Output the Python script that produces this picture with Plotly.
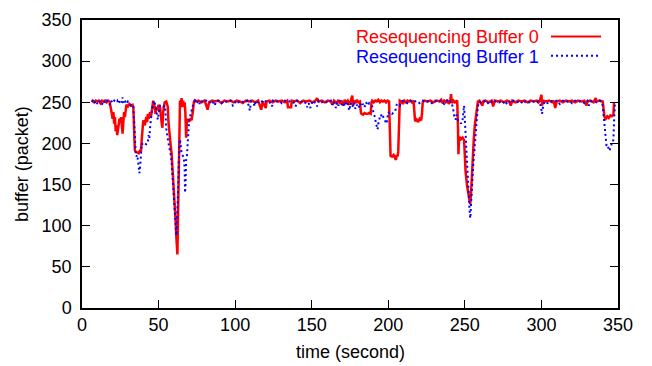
import plotly.graph_objects as go

# ---------------- data ----------------
# Resequencing Buffer 0 (red, solid)
red_t = [
    6.5, 7, 8, 9, 10, 11, 12, 13, 14, 15, 16, 17, 18,
    19, 19.5, 20, 20.5, 21, 21.5, 22, 22.5, 23, 23.5, 24, 24.5, 25, 25.5, 26, 26.5, 27, 27.5, 28, 28.5, 29, 30, 31, 32, 33, 33.5,
    34, 34.5, 35, 36, 37, 38, 38.5, 39, 39.5, 40, 41, 42, 42.5, 43, 43.5, 44, 44.5, 45, 45.5,
    46, 46.5, 47, 47.5, 48, 48.5, 49, 50, 50.5, 51, 52, 52.5, 53, 54, 55, 55.5,
    56, 56.5, 57, 57.5, 58, 58.5, 59, 59.5, 60, 60.5, 61, 61.5, 62, 62.3, 62.7, 63, 63.3, 63.7,
    64, 64.5, 65, 65.5, 66, 66.5, 67, 67.5, 68, 68.5, 69, 69.5, 70, 70.5, 71, 71.5, 72, 72.5, 73, 73.5,
    74, 76, 78, 80, 81, 82, 83, 85, 87, 89,
    91, 93, 95, 97, 99, 101, 103, 105, 107, 109,
    111, 113, 115, 116, 117, 118, 119.5, 120, 120.5, 122.5,
    124.5, 126.5, 128.5, 130.5, 132.5, 134, 134.5, 136.5, 137, 138.5,
    140.5, 142.5, 144.5, 146.5, 148.5, 150.5, 152.5, 153.5, 154.5, 156.5,
    158.5, 160.5, 162.5, 163.5, 164.5, 166.5, 167.5, 168.5, 169.5, 170.5,
    171.5, 172.5, 173.5, 174.5, 175.5, 176.5, 177, 177.5, 178.5, 179.5,
    180.5, 181.5,
    182.1, 182.5, 183.5, 184.5, 185.5, 186.5, 187.5, 188.5, 189, 189.5,
    190.5, 191.5, 192.5, 193.5, 194.5, 195.5, 196.5, 197.5, 198.5, 199.5,
    200.5, 201, 201.5, 202.5, 203.5, 204.5, 205, 205.5, 206, 206.5,
    207, 207.5, 208.5, 209.5, 210.5, 211.5, 212.5, 213.5, 214.5, 215.5,
    216.5, 217, 217.5, 218.5, 219.5, 220.5, 221.5, 222, 222.5, 223.5,
    225.5, 227.5, 229.5, 231.5, 233.5, 234.5, 235.5, 236.5, 237.5, 238.5,
    239.5, 240.5, 241, 241.5, 242.5, 243.5, 245, 245.5, 245.8, 246.2,
    246.5, 247.5, 248.5, 249.5, 250, 250.5, 251.5, 252, 252.5, 253,
    253.5, 254, 254.5, 255.1, 255.8, 256.5, 257.3, 258, 258.5,
    259.5, 261.5, 262, 263.5, 265.5, 267.5, 268.5, 269.5, 271.5, 273.5,
    275.5, 277.5, 279, 280, 281, 283, 285, 287, 289, 291,
    293, 295, 297, 298, 299, 300, 300.5, 301, 303, 305,
    307, 308, 309, 310, 312, 314, 316, 318, 320, 322,
    324, 326, 328, 329.5, 330, 332, 334, 335.4, 336, 338,
    340, 340.8, 341.2, 342, 343, 344, 345, 346, 347, 347.4,
]
red_v = [
    251, 252, 250, 252, 251, 252, 249, 252, 251, 252, 250, 252, 251,
    243, 236, 230, 238, 224, 232, 215, 222, 210, 218, 223, 230, 226, 232, 222, 212, 226, 238, 232, 244, 247, 245, 248, 246, 247, 244,
    200, 192, 190, 189, 188, 192, 190, 205, 215, 228, 222, 232, 226, 236, 230, 235, 238, 232, 240,
    250, 252, 242, 246, 236, 244, 240, 247, 238, 244, 225, 219, 238, 250, 251, 248,
    245, 225, 212, 204, 196, 188, 175, 160, 148, 135, 110, 90, 70, 65, 110, 160, 215, 252,
    252, 246, 255, 244, 252, 246, 250, 238, 207, 228, 230, 226, 229, 227, 231, 228, 233, 240, 250, 252,
    251, 252, 250, 252, 247, 241, 250, 252, 251, 252,
    249, 252, 251, 252, 250, 252, 251, 249, 252, 251,
    252, 250, 252, 246, 241, 251, 245, 243, 251, 252,
    250, 252, 251, 252, 250, 252, 244, 244, 252, 251,
    252, 249, 252, 251, 252, 250, 252, 255, 251, 252,
    250, 252, 251, 247, 252, 249, 253, 248, 252, 246,
    253, 250, 252, 247, 252, 258, 246, 252, 249, 253,
    250, 251,
    238, 236, 235, 237, 236, 236, 237, 236, 250, 252,
    250, 252, 251, 253, 250, 252, 251, 252, 250, 252,
    251, 200, 185, 184, 186, 182, 180, 186, 184, 190,
    250, 252, 251, 248, 252, 250, 252, 251, 252, 250,
    252, 228, 227, 229, 226, 230, 228, 236, 250, 252,
    251, 252, 250, 252, 251, 253, 249, 252, 250, 253,
    248, 252, 260, 249, 252, 250, 252, 220, 187, 205,
    208, 205, 207, 204, 180, 165, 148, 142, 134, 128,
    126, 138, 160, 182, 204, 222, 237, 248, 251,
    252, 246, 251, 252, 250, 252, 245, 252, 251, 252,
    250, 252, 251, 246, 252, 250, 252, 251, 252, 250,
    252, 251, 252, 250, 252, 259, 246, 252, 251, 252,
    250, 252, 243, 251, 252, 250, 252, 251, 252, 250,
    252, 251, 252, 246, 251, 252, 250, 255, 251, 252,
    251, 236, 232, 230, 233, 231, 234, 233, 235, 250,
]

# Resequencing Buffer 1 (blue, dotted)
blue_t = [
    6.5, 7, 8, 9, 10, 11, 12, 13, 14, 15,
    16, 17, 18, 19, 20, 21, 22, 23, 24, 25,
    26, 26.5, 27, 28, 29, 30, 31, 32, 33, 33.5,
    34, 34.3, 34.6, 35, 35.5, 36, 36.5, 37, 37.5, 38,
    38.5, 39, 40, 41, 42, 43, 43.5, 44, 44.5, 45,
    45.5, 46, 46.5,
    47, 48, 48.5, 49, 49.5, 50, 50.5, 51, 52, 53,
    54, 54.5, 55, 55.5, 56,
    56.5, 57, 57.5, 58, 58.5, 59, 59.5, 60, 60.5, 61,
    61.6, 62, 62.5, 63, 63.5, 64, 64.5, 65, 65.5, 66,
    66.5, 67, 67.3, 67.6, 68, 68.5, 69, 69.5, 70, 71,
    72, 73, 74,
    75, 76, 76.8, 77.5, 79, 81, 83, 85, 86.7, 87.5,
    89, 91, 93, 95, 97, 98.5, 99.7, 100.5, 102, 104,
    106, 108, 109.6, 110.3, 112, 112.8, 113.5, 115, 117, 118.5,
    120.5, 122.5, 124.1, 124.8, 126.5, 128.5, 130.5, 132.5, 134.5, 136.5,
    138.5, 139.5, 140.5, 142.5, 144.5, 146, 147, 148, 149, 150,
    150.5, 152.5, 153.5, 154.5, 156.5, 158.5, 160.5, 162.5, 163.5, 164.5,
    165.8, 166.5, 167.5, 168.5, 169.5, 170.5, 171.5, 172.5, 173.5, 174.5,
    175.5, 176.5, 177.5, 178.5, 179.5, 180.5, 181.5, 182.5, 183.5, 184.5,
    185.5, 186.5, 187.5, 188.5, 189.5,
    190.5, 191.3, 192, 192.5, 193, 193.5, 194, 194.5, 195.2, 196,
    196.5, 197.5, 198.3, 198.9, 199.5, 200, 200.5, 201.5, 202.5, 203.5,
    204.5, 205, 205.5, 206.5, 207.5, 208.5, 210.5, 212.5, 214.5, 216.5,
    218.5, 220.5, 222.5, 224.5, 226.5, 228.5, 230.5, 232.5, 234.5, 236.5,
    238.5, 239.5, 240.5, 241.5, 242.1, 242.5, 243, 243.5, 244, 244.5,
    245, 245.5, 247, 247.5, 248, 248.5, 249, 249.5, 249.8, 250.2,
    250.5, 251, 251.5, 252, 252.5, 253, 253.3, 253.6, 254, 254.5,
    255, 255.5, 256.2, 257, 257.5, 258, 258.5, 259.1, 259.5,
    260.5, 262.5, 264.5, 266.5, 268.5, 270.5, 272.5, 274.5, 276.5, 278.5,
    280, 282, 284, 286, 288, 290, 292, 294, 296, 298,
    299.5, 300.4, 301, 302, 304, 306, 308, 310, 312, 314,
    316, 318, 320, 322, 324, 326, 328, 330, 331, 332,
    334, 336, 338, 339.5, 340, 340.5, 341, 341.5, 342, 342.5,
    343, 343.5, 344, 344.5, 345, 345.5, 346, 346.5, 347, 347.5,
    348,
]
blue_v = [
    250, 252, 249, 252, 248, 252, 250, 247, 252, 249,
    252, 251, 247, 252, 249, 252, 250, 252, 248, 253,
    250, 256, 249, 252, 248, 251, 249, 246, 247, 245,
    230, 214, 196, 190, 184, 186, 180, 170, 164, 172,
    190, 200, 198, 200, 199, 201, 210, 206, 220, 232,
    238, 244, 250,
    252, 246, 240, 234, 229, 236, 240, 246, 247, 245,
    246, 238, 218, 209, 206,
    200, 196, 192, 186, 178, 165, 152, 140, 125, 108,
    88, 100, 135, 170, 195, 205, 195, 188, 186, 184,
    183, 170, 140, 150, 180, 184, 200, 220, 229, 236,
    244, 250, 252,
    249, 252, 248, 252, 250, 252, 249, 252, 246, 251,
    252, 249, 252, 250, 252, 246, 247, 252, 250, 252,
    249, 252, 240, 251, 249, 245, 252, 250, 252, 249,
    252, 250, 245, 252, 250, 252, 249, 252, 250, 252,
    249, 245, 252, 250, 252, 249, 244, 249, 243, 248,
    252, 249, 245, 252, 250, 252, 249, 252, 247, 251,
    243, 250, 246, 252, 247, 250, 245, 251, 248, 240,
    249, 244, 250, 242, 247, 243, 249, 245, 248, 244,
    250, 246, 249, 247, 245,
    236, 232, 224, 219, 217, 224, 229, 232, 235, 231,
    233, 230, 226, 224, 234, 238, 237, 238, 236, 238,
    239, 243, 247, 248, 246, 251, 252, 249, 252, 250,
    252, 249, 252, 250, 252, 249, 252, 250, 252, 248,
    252, 249, 251, 249, 245, 240, 234, 230, 229, 235,
    232, 228, 226, 224, 227, 228, 238, 246, 236, 220,
    205, 185, 165, 150, 132, 121, 113, 109, 125, 145,
    160, 175, 191, 210, 222, 237, 245, 249, 251,
    250, 252, 248, 252, 249, 252, 250, 252, 247, 252,
    249, 252, 250, 252, 248, 252, 250, 252, 249, 251,
    246, 236, 244, 251, 249, 252, 250, 252, 248, 252,
    250, 252, 249, 252, 250, 252, 249, 252, 246, 251,
    252, 250, 252, 250, 246, 236, 223, 212, 200, 197,
    198, 196, 194, 191, 195, 199, 200, 200, 205, 230,
    247,
]

series_names = ["Resequencing Buffer 0", "Resequencing Buffer 1"]
x_ticks = [0, 50, 100, 150, 200, 250, 300, 350]
y_ticks = [0, 50, 100, 150, 200, 250, 300, 350]
x_title = "time (second)"
y_title = "buffer (packet)"

assert len(red_t) == len(red_v), (len(red_t), len(red_v))
assert len(blue_t) == len(blue_v), (len(blue_t), len(blue_v))

# ---------------- figure ----------------
FONT = "Liberation Sans, Arial, Helvetica, sans-serif"
W, H = 652, 366
L, R, T, B = 82, 34, 10, 58
PW, PH = W - L - R, H - T - B

fig = go.Figure()
fig.add_trace(go.Scatter(x=red_t, y=red_v, mode="lines", name=series_names[0],
                         line=dict(color="#ff0000", width=2.5), showlegend=False))
fig.add_trace(go.Scatter(x=blue_t, y=blue_v, mode="lines", name=series_names[1],
                         line=dict(color="#0000ff", width=2, dash="2px,3px"), showlegend=False))

axis_common = dict(
    ticks="inside", ticklen=8, tickwidth=1, tickcolor="black",
    showline=True, linecolor="black", linewidth=1.5, mirror="ticks",
    showgrid=False, zeroline=False,
    tickfont=dict(family=FONT, size=18, color="black"),
)
fig.update_xaxes(range=[0, 350], tickvals=x_ticks, ticktext=[str(v) for v in x_ticks], **axis_common)
fig.update_yaxes(range=[0, 350], tickvals=y_ticks, ticktext=[str(v) for v in y_ticks],
                 ticklabelstandoff=5, **axis_common)


def px_x(p):
    return (p - L) / PW


def px_y(p):
    return (H - B - p) / PH


annotations = [
    dict(text=x_title, xref="paper", yref="paper", x=0.5, y=0, yshift=-(352 - (H - B)),
         showarrow=False, xanchor="center", yanchor="middle",
         font=dict(family=FONT, size=18, color="black")),
    dict(text=y_title, xref="paper", yref="paper", x=0, xshift=-(L - 22), y=0.5,
         textangle=-90, showarrow=False, xanchor="center", yanchor="middle",
         font=dict(family=FONT, size=18, color="black")),
    dict(text=series_names[0], xref="paper", yref="paper", x=px_x(540), y=px_y(27.5),
         showarrow=False, xanchor="right", yanchor="middle", borderpad=0,
         font=dict(family=FONT, size=18, color="#ff0000")),
    dict(text=series_names[1], xref="paper", yref="paper", x=px_x(540), y=px_y(48.5),
         showarrow=False, xanchor="right", yanchor="middle", borderpad=0,
         font=dict(family=FONT, size=18, color="#0000ff")),
]
shapes = [
    dict(type="line", xref="paper", yref="paper", x0=px_x(551), x1=px_x(601), y0=px_y(27), y1=px_y(27),
         line=dict(color="#ff0000", width=2)),
    dict(type="line", xref="paper", yref="paper", x0=px_x(551), x1=px_x(601), y0=px_y(47), y1=px_y(47),
         line=dict(color="#0000ff", width=2, dash="2px,3px")),
]

fig.update_layout(
    width=W, height=H,
    margin=dict(l=L, r=R, t=T, b=B, pad=0),
    paper_bgcolor="white", plot_bgcolor="white",
    font=dict(family=FONT, size=18, color="black"),
    annotations=annotations, shapes=shapes,
    showlegend=False,
)

fig.write_html("out.html", config={"displayModeBar": False})
